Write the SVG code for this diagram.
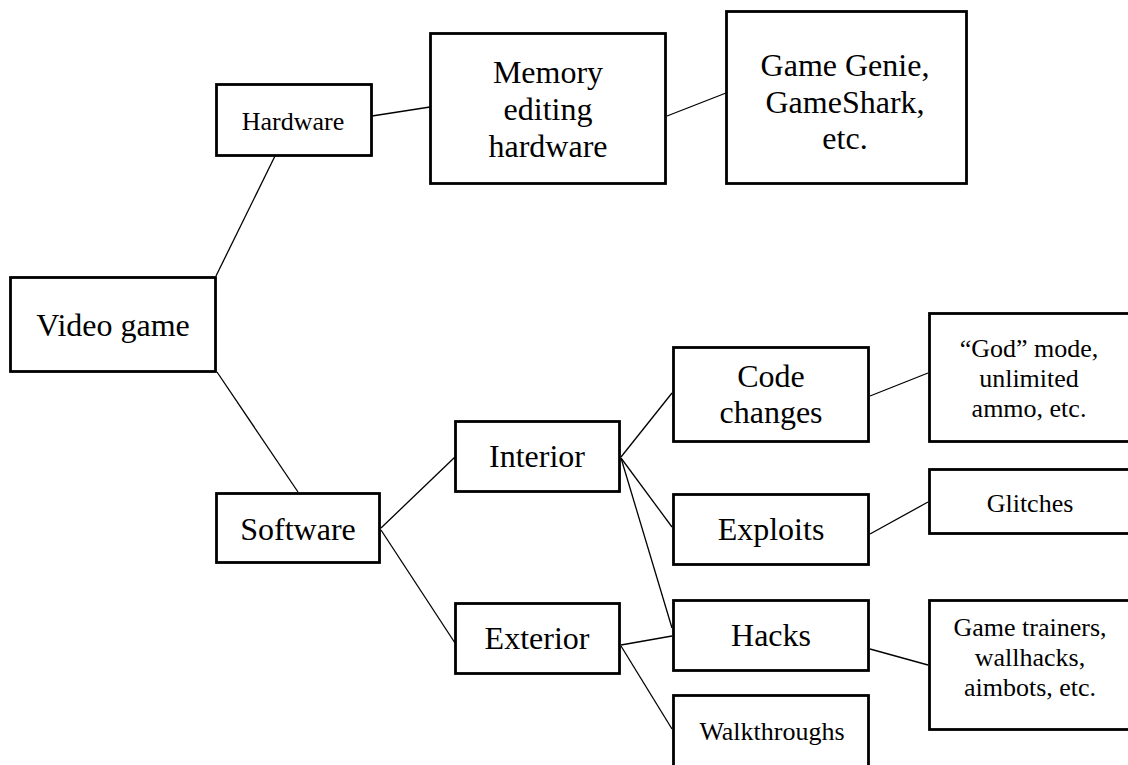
<svg xmlns="http://www.w3.org/2000/svg" width="1128" height="765" viewBox="0 0 1128 765">
<style>
.box{fill:#fff;stroke:#000;stroke-width:2.8}
.t{font-family:"Liberation Serif","Times New Roman",serif;fill:#000;text-anchor:middle}
.l{font-size:32px}
.s{font-size:26px}
.c line{stroke:#000;stroke-width:1.3}
</style>
<rect width="1128" height="765" fill="#fff"/>
<g class="c" id="connectors">
<line x1="216" y1="276" x2="275" y2="156"/>
<line x1="217" y1="372" x2="298" y2="492"/>
<line x1="372" y1="116" x2="430" y2="107"/>
<line x1="667" y1="116" x2="726" y2="93"/>
<line x1="381" y1="528" x2="455" y2="457"/>
<line x1="381" y1="530" x2="455" y2="643"/>
<line x1="621" y1="457" x2="672" y2="393"/>
<line x1="621" y1="458" x2="672" y2="527"/>
<line x1="621" y1="458" x2="672" y2="628"/>
<line x1="621" y1="645" x2="672" y2="636"/>
<line x1="621" y1="646" x2="672" y2="729"/>
<line x1="870" y1="396" x2="928" y2="373"/>
<line x1="870" y1="534" x2="928" y2="502"/>
<line x1="870" y1="649" x2="928" y2="665"/>
</g>
<g id="video-game"><rect class="box" x="10.5" y="277.5" width="205" height="94"/><text class="t l" x="113" y="336">Video game</text></g>
<g id="hardware"><rect class="box" x="216.5" y="84.5" width="155" height="71"/><text class="t s" x="293" y="130">Hardware</text></g>
<g id="software"><rect class="box" x="216.5" y="493.5" width="163" height="69"/><text class="t l" x="298" y="540">Software</text></g>
<g id="memory"><rect class="box" x="430.5" y="33.5" width="235" height="150"/><text class="t l" x="548" y="83">Memory</text><text class="t l" x="548" y="120">editing</text><text class="t l" x="548" y="157">hardware</text></g>
<g id="gamegenie"><rect class="box" x="726.5" y="11.5" width="240" height="172"/><text class="t l" x="845" y="76">Game Genie,</text><text class="t l" x="845" y="112.5">GameShark,</text><text class="t l" x="845" y="149">etc.</text></g>
<g id="interior"><rect class="box" x="455.5" y="421.5" width="164" height="70"/><text class="t l" x="537" y="467">Interior</text></g>
<g id="exterior"><rect class="box" x="455.5" y="603.5" width="164" height="70"/><text class="t l" x="537" y="649">Exterior</text></g>
<g id="code-changes"><rect class="box" x="673.5" y="347.5" width="195" height="94"/><text class="t l" x="771" y="387">Code</text><text class="t l" x="771" y="423">changes</text></g>
<g id="exploits"><rect class="box" x="673.5" y="494.5" width="195" height="70"/><text class="t l" x="771" y="540">Exploits</text></g>
<g id="hacks"><rect class="box" x="673.5" y="600.5" width="195" height="70"/><text class="t l" x="771" y="646">Hacks</text></g>
<g id="walkthroughs"><rect class="box" x="673.5" y="695.5" width="195" height="100"/><text class="t s" x="772" y="740">Walkthroughs</text></g>
<g id="god-mode"><rect class="box" x="929.5" y="313.5" width="210" height="128"/><text class="t s" x="1029" y="357">“God” mode,</text><text class="t s" x="1029" y="387">unlimited</text><text class="t s" x="1029" y="417">ammo, etc.</text></g>
<g id="glitches"><rect class="box" x="929.5" y="469.5" width="210" height="64"/><text class="t s" x="1030" y="512">Glitches</text></g>
<g id="trainers"><rect class="box" x="929.5" y="600.5" width="210" height="129"/><text class="t s" x="1030" y="636">Game trainers,</text><text class="t s" x="1030" y="666">wallhacks,</text><text class="t s" x="1030" y="696">aimbots, etc.</text></g>
</svg>
